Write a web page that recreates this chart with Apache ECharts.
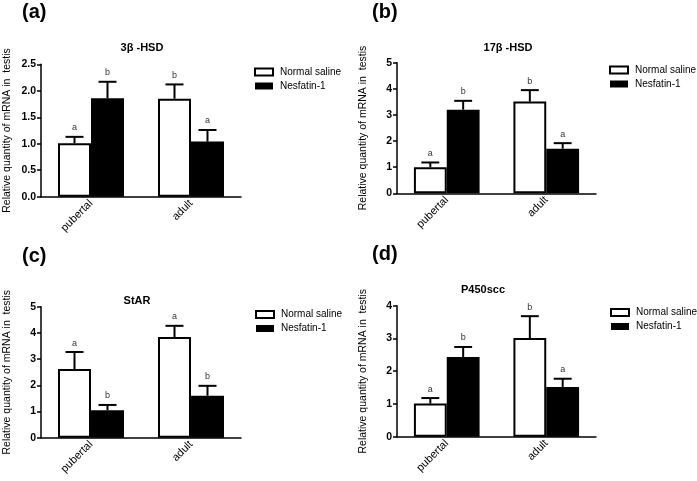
<!DOCTYPE html>
<html><head><meta charset="utf-8">
<script src="https://cdn.jsdelivr.net/npm/echarts@6/dist/echarts.min.js"></script>
<style>html,body{margin:0;padding:0;background:#fff}#c{width:697px;height:481px}</style>
</head><body><div id="c"></div>
<script>
const categories = ['pubertal', 'adult'];
const panelTitles = ['3β -HSD', '17β -HSD', 'StAR', 'P450scc'];
const panelLetters = ['(a)', '(b)', '(c)', '(d)'];
const yMax = [2.5, 5, 5, 4];
const yInterval = [0.5, 1, 1, 1];
const yDecimals = [1, 0, 0, 0];

const hsd3bSaline = [1.01, 1.85];
const hsd3bSalineErr = [0.12, 0.27];
const hsd3bNesfatin = [1.86, 1.04];
const hsd3bNesfatinErr = [0.31, 0.22];
const hsd3bSalineLetters = ['a', 'b'];
const hsd3bNesfatinLetters = ['b', 'a'];

const hsd17bSaline = [1.0, 3.51];
const hsd17bSalineErr = [0.18, 0.44];
const hsd17bNesfatin = [3.2, 1.71];
const hsd17bNesfatinErr = [0.34, 0.21];
const hsd17bSalineLetters = ['a', 'b'];
const hsd17bNesfatinLetters = ['b', 'a'];

const starSaline = [2.62, 3.84];
const starSalineErr = [0.65, 0.43];
const starNesfatin = [1.05, 1.6];
const starNesfatinErr = [0.2, 0.38];
const starSalineLetters = ['a', 'a'];
const starNesfatinLetters = ['b', 'b'];

const p450Saline = [1.01, 3.01];
const p450SalineErr = [0.17, 0.67];
const p450Nesfatin = [2.43, 1.52];
const p450NesfatinErr = [0.31, 0.25];
const p450SalineLetters = ['a', 'b'];
const p450NesfatinLetters = ['b', 'a'];

const panels = [
  [hsd3bSaline, hsd3bSalineErr, hsd3bSalineLetters, hsd3bNesfatin, hsd3bNesfatinErr, hsd3bNesfatinLetters],
  [hsd17bSaline, hsd17bSalineErr, hsd17bSalineLetters, hsd17bNesfatin, hsd17bNesfatinErr, hsd17bNesfatinLetters],
  [starSaline, starSalineErr, starSalineLetters, starNesfatin, starNesfatinErr, starNesfatinLetters],
  [p450Saline, p450SalineErr, p450SalineLetters, p450Nesfatin, p450NesfatinErr, p450NesfatinLetters]
];

// layout (style only)
const grids = [
  {left: 41, top: 64.3, width: 200, height: 132.4},
  {left: 397, top: 62.7, width: 199, height: 130.6},
  {left: 41, top: 306.7, width: 200, height: 131},
  {left: 397, top: 305.7, width: 199, height: 131}
];
const titlePos = [[142, 48], [508, 48], [137, 301], [483, 290]];
const letterPos = [[22, 2], [372, 2], [22, 246], [372, 244]];
const legendPos = [[254, 67], [609, 65], [255, 309.5], [610, 307.5]];

const FONT = 'Liberation Sans, Arial, sans-serif';

function errSeries(i, means, errs, letters, sign) {
  return {
    type: 'custom', xAxisIndex: i, yAxisIndex: i, z: 5, silent: true,
    data: means.map((m, k) => [k, m, errs[k]]),
    renderItem: function (params, api) {
      const base = api.coord([api.value(0), api.value(1)]);
      const top = api.coord([api.value(0), api.value(1) + api.value(2)]);
      const band = api.size([1, 0])[0];
      const cx = base[0] + sign * band * 0.165;
      const hw = band * 0.09;
      const st = {stroke: '#000', lineWidth: 2};
      return {
        type: 'group',
        children: [
          {type: 'line', shape: {x1: cx, y1: base[1], x2: cx, y2: top[1]}, style: st},
          {type: 'line', shape: {x1: cx - hw, y1: top[1], x2: cx + hw, y2: top[1]}, style: st},
          {type: 'text', style: {text: letters[params.dataIndex], x: cx, y: top[1] - 9,
            textAlign: 'center', textVerticalAlign: 'middle', fill: '#333', fontSize: 9, fontFamily: FONT}}
        ]
      };
    }
  };
}

const option = {
  animation: false,
  backgroundColor: '#fff',
  grid: grids.map(g => Object.assign({containLabel: false}, g)),
  xAxis: grids.map((g, i) => ({
    type: 'category', gridIndex: i, data: categories,
    axisLine: {lineStyle: {color: '#000', width: 1.5}},
    axisTick: {alignWithLabel: true, length: 4, lineStyle: {color: '#000', width: 1.5}},
    axisLabel: {rotate: 45, fontSize: 11, color: '#000', margin: 5, fontFamily: FONT}
  })),
  yAxis: grids.map((g, i) => ({
    type: 'value', gridIndex: i, min: 0, max: yMax[i], interval: yInterval[i],
    name: 'Relative quantity of mRNA in  testis', nameLocation: 'middle', nameGap: 28,
    nameTextStyle: {fontSize: 10.5, color: '#000', fontFamily: FONT},
    axisLine: {show: true, lineStyle: {color: '#000', width: 1.5}},
    axisTick: {show: true, length: 4, lineStyle: {color: '#000', width: 1.5}},
    axisLabel: {fontSize: 10.5, fontWeight: 'bold', color: '#000', margin: 5, fontFamily: FONT,
      formatter: v => v.toFixed(yDecimals[i])},
    splitLine: {show: false}
  })),
  legend: legendPos.map(p => ({
    left: p[0], top: p[1], padding: 0, orient: 'vertical', itemWidth: 18, itemHeight: 7, itemGap: 4,
    selectedMode: false,
    textStyle: {fontSize: 10, color: '#000', fontFamily: FONT, padding: [0, 0, 0, 2]},
    data: [
      {name: 'Normal saline', icon: 'rect', itemStyle: {color: '#fff', borderColor: '#000', borderWidth: 2}},
      {name: 'Nesfatin-1', icon: 'rect', itemStyle: {color: '#000', borderColor: '#000', borderWidth: 0}}
    ]
  })),
  graphic: [].concat(
    titlePos.map((p, i) => ({type: 'text', x: p[0], y: p[1], style: {text: panelTitles[i],
      textAlign: 'center', textVerticalAlign: 'middle', fontSize: 11, fontWeight: 'bold', fill: '#000', fontFamily: FONT}})),
    letterPos.map((p, i) => ({type: 'text', x: p[0], y: p[1], style: {text: panelLetters[i],
      textAlign: 'left', textVerticalAlign: 'top', fontSize: 20, fontWeight: 'bold', fill: '#000', fontFamily: FONT}}))
  ),
  series: []
};

panels.forEach((p, i) => {
  option.series.push({
    name: 'Normal saline', type: 'bar', xAxisIndex: i, yAxisIndex: i, data: p[0],
    barWidth: '33%', barGap: '0%',
    itemStyle: {color: '#fff', borderColor: '#000', borderWidth: 2}
  });
  option.series.push({
    name: 'Nesfatin-1', type: 'bar', xAxisIndex: i, yAxisIndex: i, data: p[3],
    barWidth: '33%', barGap: '0%',
    itemStyle: {color: '#000', borderColor: '#000', borderWidth: 2}
  });
  option.series.push(errSeries(i, p[0], p[1], p[2], -1));
  option.series.push(errSeries(i, p[3], p[4], p[5], 1));
});

const chart = echarts.init(document.getElementById('c'), null, {renderer: 'canvas'});
chart.setOption(option);
</script>
</body></html>
